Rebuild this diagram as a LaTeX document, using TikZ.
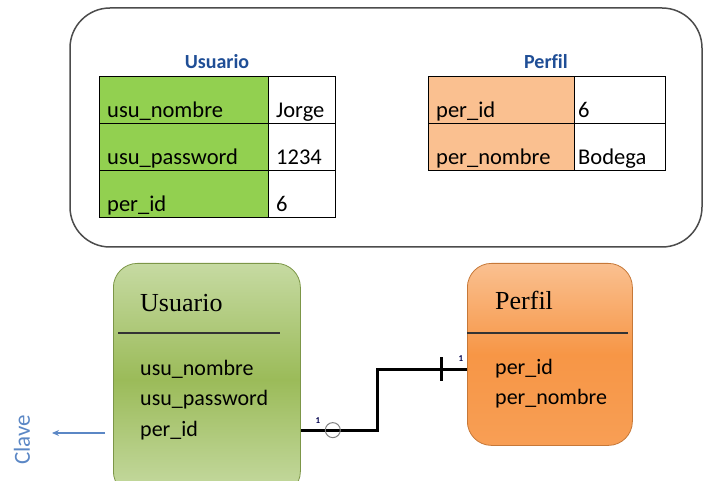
\documentclass[tikz,border=0pt]{standalone}
\usepackage{fontspec}
\setmainfont{Carlito}[Ligatures=NoCommon]
\newfontfamily\entserif{Liberation Serif}[Ligatures=NoCommon]
\usetikzlibrary{arrows.meta,positioning}

\definecolor{tabgreen}{HTML}{92D050}
\definecolor{tabpeach}{HTML}{FAC090}
\definecolor{titleblue}{HTML}{1F4E96}
\definecolor{entgreenlt}{HTML}{C6DAA2}
\definecolor{entgreen}{HTML}{9BBB59}
\definecolor{entorangelt}{HTML}{FAC090}
\definecolor{entorange}{HTML}{F79646}
\definecolor{claveblue}{HTML}{5B87C5}

\tikzset{
  cell/.style={draw, line width=1.2pt, anchor=north west, minimum height=47pt, inner sep=0pt},
  celltext/.style={anchor=base west, inner sep=0pt, font=\fontsize{22.5}{26}\selectfont},
  tabtitle/.style={text=titleblue, font=\bfseries\fontsize{20}{24}\selectfont},
  entity/.style={anchor=north west, rounded corners=24pt, inner sep=0pt, line width=0.8pt},
  enttitle/.style={anchor=base west, inner sep=0pt, font=\entserif\fontsize{26}{30}\selectfont},
  attr/.style={anchor=base west, inner sep=0pt, font=\fontsize{22}{26}\selectfont},
  sepline/.style={line width=1.8pt, black!80},
  rel/.style={line width=3pt, black},
  one/.style={inner sep=0pt, text=black!70!blue, font=\bfseries\fontsize{9}{10}\selectfont},
  keyarrow/.style={-{Stealth[length=7pt,width=6pt]}, claveblue, line width=2pt}
}

\begin{document}
\begin{tikzpicture}[x=1pt, y=-1pt]
\useasboundingbox (0,0) rectangle (705,481);
\clip (0,0) rectangle (705,481);

% ejemplo de registros
\draw[line width=1.5pt, black!70, rounded corners=40pt] (70,8) rectangle (702,247);

\node[tabtitle] (tusu) at (217,62) {Usuario};
\foreach \k/\v [count=\i from 0] in {usu\_nombre/Jorge, usu\_password/1234, per\_id/6}{
  \node[cell, fill=tabgreen, minimum width=169pt] (uk\i) at (99,76+47*\i) {};
  \node[cell, fill=white, minimum width=67pt] (uv\i) at (268,76+47*\i) {};
  \node[celltext] at ([shift={(8,-7)}]uk\i.south west) {\k};
  \node[celltext] at ([shift={(8,-7)}]uv\i.south west) {\v};
}

\node[tabtitle] (tper) at (546,62) {Perfil};
\foreach \k/\v [count=\i from 0] in {per\_id/6, per\_nombre/Bodega}{
  \node[cell, fill=tabpeach, minimum width=146pt] (pk\i) at (428,76+47*\i) {};
  \node[cell, fill=white, minimum width=91pt] (pv\i) at (574,76+47*\i) {};
  \node[celltext] at ([shift={(8,-7)}]pk\i.south west) {\k};
  \node[celltext] at ([shift={(4,-7)}]pv\i.south west) {\v};
}

% entidades
\node[entity, draw=entgreen!80!black, top color=entgreenlt, bottom color=entgreenlt,
      middle color=entgreen, minimum width=187pt, minimum height=232pt] (ue) at (113,263) {};
\node[enttitle] (ut) at (140,312) {Usuario};
\draw[sepline] (118,333) -- (280,333);
\node[attr] (ua1) at (140,376) {usu\_nombre};
\node[attr] (ua2) at (140,406) {usu\_password};
\node[attr] (ua3) at (140,436) {per\_id};

\node[entity, draw=entorange!80!black, top color=entorangelt, bottom color=entorange!80!entorangelt,
      middle color=entorange, minimum width=165pt, minimum height=182pt] (pe) at (467,263) {};
\node[enttitle] (pt) at (495,310) {Perfil};
\draw[sepline] (467,333) -- (628,333);
\node[attr] (pa1) at (495,375) {per\_id};
\node[attr] (pa2) at (495,405) {per\_nombre};

% relacion
\draw[rel] (ua3 -| ue.east) -- ++(77,0) |- (pa1 -| pe.west);
\node[draw=gray, line width=1pt, circle, minimum size=15pt, inner sep=0pt] (opt) at ([xshift=32pt]ua3 -| ue.east) {};
\draw[rel] ([xshift=-26pt]pa1 -| pe.west) ++(0,-12) -- ++(0,24);
\node[one] at (318,421) {1};
\node[one] at (461,359) {1};

% clave
\node[rotate=90, text=claveblue, inner sep=0pt, font=\fontsize{23}{26}\selectfont] (clave) at (22,440) {Clave};
\coordinate (keystart) at (105,433);
\coordinate (keyend) at (52,433);
\draw[keyarrow] (keystart) -- (keyend);
\end{tikzpicture}
\end{document}
